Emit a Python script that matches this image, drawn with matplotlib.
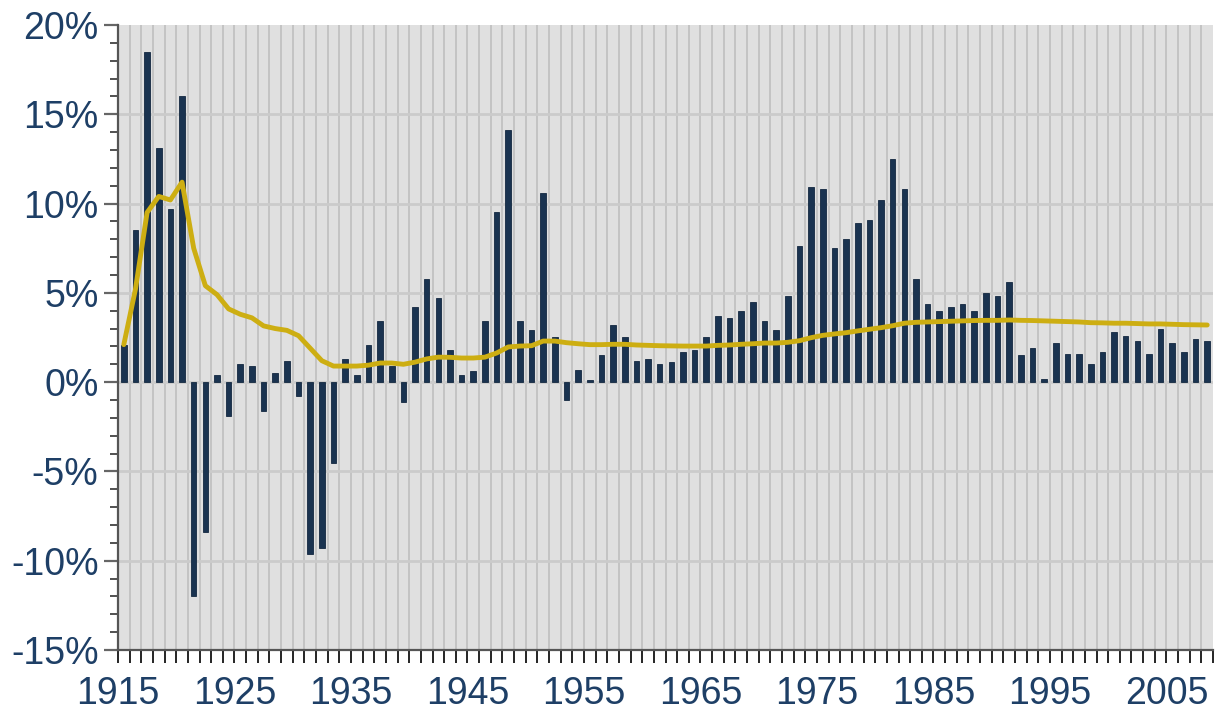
"""Annual inflation rate with its running average, 1915-2008."""
import numpy as np
import matplotlib
matplotlib.use("Agg")
import matplotlib.pyplot as plt
from matplotlib.ticker import MultipleLocator, FuncFormatter

plt.rcParams["font.family"] = ["Liberation Sans", "DejaVu Sans"]

FIRST_YEAR = 1915
annual_rate = [
    2.1, 8.5, 18.5, 13.1, 9.7, 16.0, -12.0, -8.4, 0.4, -1.9,
    1.0, 0.9, -1.6, 0.5, 1.2, -0.8, -9.6, -9.3, -4.5, 1.3,
    0.4, 2.1, 3.4, 0.9, -1.1, 4.2, 5.8, 4.7, 1.8, 0.4,
    0.6, 3.4, 9.5, 14.1, 3.4, 2.9, 10.6, 2.5, -1.0, 0.7,
    0.1, 1.5, 3.2, 2.5, 1.2, 1.3, 1.0, 1.1, 1.7, 1.8,
    2.5, 3.7, 3.6, 4.0, 4.5, 3.4, 2.9, 4.8, 7.6, 10.9,
    10.8, 7.5, 8.0, 8.9, 9.1, 10.2, 12.5, 10.8, 5.8, 4.4,
    4.0, 4.2, 4.4, 4.0, 5.0, 4.8, 5.6, 1.5, 1.9, 0.2,
    2.2, 1.6, 1.6, 1.0, 1.7, 2.8, 2.6, 2.3, 1.6, 3.0,
    2.2, 1.7, 2.4, 2.3,
]
average_rate = [
    2.1, 5.2, 9.5, 10.4, 10.2, 11.2, 7.5, 5.4, 4.9, 4.1,
    3.8, 3.6, 3.15, 3.0, 2.9, 2.6, 1.9, 1.2, 0.9, 0.9,
    0.9, 0.95, 1.07, 1.07, 1.0, 1.12, 1.3, 1.4, 1.39, 1.35,
    1.35, 1.4, 1.63, 1.97, 2.02, 2.04, 2.3, 2.3, 2.21, 2.15,
    2.1, 2.1, 2.12, 2.12, 2.08, 2.06, 2.04, 2.03, 2.02, 2.02,
    2.02, 2.06, 2.08, 2.12, 2.15, 2.19, 2.19, 2.23, 2.32, 2.49,
    2.62, 2.7, 2.77, 2.87, 2.96, 3.05, 3.16, 3.3, 3.35, 3.37,
    3.39, 3.41, 3.43, 3.45, 3.46, 3.46, 3.48, 3.46, 3.45, 3.43,
    3.41, 3.39, 3.37, 3.33, 3.32, 3.3, 3.3, 3.28, 3.26, 3.26,
    3.24, 3.22, 3.21, 3.2,
]
year_labels = list(range(1915, 2006, 10))

BAR = "#1a3350"
GOLD = "#cdae12"
TEXT = "#1e3f66"


def main():
    n = len(annual_rate)
    centers = FIRST_YEAR + np.arange(n) + 0.5

    fig = plt.figure(figsize=(12.2, 7.1), dpi=100)
    ax = fig.add_axes([0.0967, 0.0845, 0.8976, 0.8803])
    ax.set_facecolor("#e0e0e0")

    for yr in range(FIRST_YEAR + 1, FIRST_YEAR + n):
        ax.axvline(yr, color="#c2c2c2", lw=1.3, zorder=1)
    for v in range(-10, 20, 5):
        ax.axhline(v, color="#cbcbcb", lw=2.0, zorder=1)

    ax.bar(centers, annual_rate, width=0.48, color=BAR, edgecolor="#132840",
           linewidth=0.6, zorder=2)
    ax.plot(centers, average_rate, color=GOLD, lw=3.5, zorder=3,
            solid_joinstyle="round", solid_capstyle="round")

    ax.set_xlim(FIRST_YEAR, FIRST_YEAR + n)
    ax.set_ylim(-15, 20)

    ax.set_xticks(year_labels)
    ax.set_xticklabels([str(y) for y in year_labels])
    ax.xaxis.set_minor_locator(MultipleLocator(1))
    ax.yaxis.set_major_locator(MultipleLocator(5))
    ax.yaxis.set_minor_locator(MultipleLocator(1))
    ax.yaxis.set_major_formatter(FuncFormatter(lambda v, _: f"{v:.0f}%"))

    ax.tick_params(axis="x", which="both", length=9, width=1.2, color="black",
                   labelsize=27, labelcolor=TEXT, pad=10)
    ax.tick_params(axis="y", which="major", length=10, width=1.6, color="#666666",
                   labelsize=27, labelcolor=TEXT, pad=4)
    ax.tick_params(axis="y", which="minor", length=6, width=1.2, color="#333333")

    for side in ("top", "right"):
        ax.spines[side].set_visible(False)
    ax.spines["left"].set_color("#555555")
    ax.spines["left"].set_linewidth(1.6)
    ax.spines["bottom"].set_color("#555555")
    ax.spines["bottom"].set_linewidth(1.6)

    fig.savefig("out.png", dpi=100)
    plt.close(fig)


if __name__ == "__main__":
    main()
